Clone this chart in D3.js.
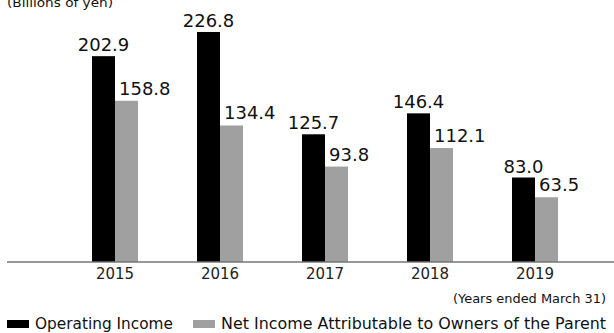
<!DOCTYPE html>
<html><head><meta charset="utf-8">
<script src="https://cdn.jsdelivr.net/npm/d3@7"></script>
<style>html,body{margin:0;padding:0;background:#fff;}svg{display:block;}</style>
</head><body>
<svg id="c" width="614" height="333"></svg>
<script>
const years = ["2015","2016","2017","2018","2019"];
const seriesNames = ["Operating Income","Net Income Attributable to Owners of the Parent"];
const operatingIncome = [202.9, 226.8, 125.7, 146.4, 83.0];
const netIncome = [158.8, 134.4, 93.8, 112.1, 63.5];
const colors = ["#000000", "#a0a0a0"];

const svg = d3.select("#c");
const font = "'DejaVu Sans', sans-serif";
const baseY = 261.5;
const x0 = d3.scaleBand().domain(years).range([62.5, 587.5]).padding(0);
const x1 = d3.scaleBand().domain([0,1]).range([0,46]);
const y = d3.scaleLinear().domain([0,250]).range([baseY, baseY - 253]);

const data = [operatingIncome, netIncome];
data.forEach((vals, si) => {
  svg.append("g").selectAll("rect").data(vals).join("rect")
    .attr("x", (d,i) => x0(years[i]) + x0.bandwidth()/2 - 23 + x1(si))
    .attr("width", x1.bandwidth())
    .attr("y", d => y(d))
    .attr("height", d => baseY - y(d))
    .attr("fill", colors[si]);
});
// labels
svg.append("g").selectAll("text").data(operatingIncome).join("text")
  .attr("x", (d,i) => x0(years[i]) + x0.bandwidth()/2 - 23 + x1.bandwidth()/2)
  .attr("y", d => y(d) - 5)
  .attr("text-anchor","middle")
  .attr("font-family", font).attr("font-size", 18).attr("fill","#111")
  .text(d => d.toFixed(1));
svg.append("g").selectAll("text").data(netIncome).join("text")
  .attr("x", (d,i) => x0(years[i]) + x0.bandwidth()/2 + 4)
  .attr("y", d => y(d) - 6)
  .attr("text-anchor","start")
  .attr("font-family", font).attr("font-size", 18).attr("fill","#111")
  .text(d => d.toFixed(1));

// axis
const axis = svg.append("g").attr("transform", `translate(0,262)`)
  .call(d3.axisBottom(x0).tickSize(0).tickPadding(6));
axis.select(".domain").attr("d", "M7,0H614").attr("stroke","#333").attr("stroke-width",1.2);
axis.selectAll("text").attr("font-family", font).attr("font-size", 15).attr("fill","#222");

// unit label
svg.append("text").attr("x", 7).attr("y", 7).attr("font-family", font).attr("font-size", 12).attr("fill","#111")
  .attr("textLength", 106).attr("lengthAdjust","spacingAndGlyphs")
  .text("(Billions of yen)");
svg.append("text").attr("x", 606).attr("y", 303).attr("text-anchor","end")
  .attr("font-family", font).attr("font-size", 12).attr("fill","#111")
  .attr("textLength", 153).attr("lengthAdjust","spacingAndGlyphs")
  .text("(Years ended March 31)");

// legend
const legX = [7, 193];
const legLen = [138, 385];
seriesNames.forEach((n, i) => {
  svg.append("rect").attr("x", legX[i]).attr("y", 320).attr("width", 22).attr("height", 8).attr("fill", colors[i]);
  svg.append("text").attr("x", legX[i] + 28).attr("y", 329)
    .attr("font-family", font).attr("font-size", 15.5).attr("fill","#111")
    .attr("textLength", legLen[i]).attr("lengthAdjust","spacingAndGlyphs")
    .text(n);
});
</script>
</body></html>
